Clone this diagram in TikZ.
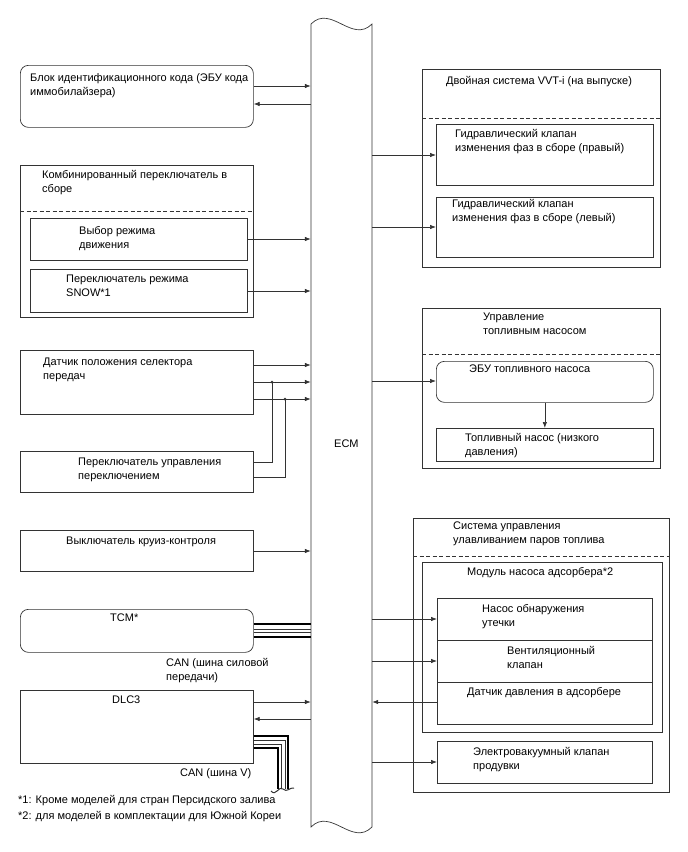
\documentclass[tikz,border=0pt]{standalone}
\usepackage{fontspec}
\setmainfont{Liberation Sans}
\usetikzlibrary{arrows.meta}
\tikzset{
  box/.style ={rectangle, draw=black!80, line width=0.7pt, anchor=north west, inner sep=0pt},
  rbox/.style={box, rounded corners=8pt},
  lbl/.style ={anchor=north west, align=left, inner sep=0pt, font=\fontsize{11}{14}\selectfont},
  ln/.style  ={draw=black!80, line width=0.7pt},
  arr/.style ={ln, -{Latex[length=6pt, width=4.5pt]}},
  sep/.style ={ln, dash pattern=on 4pt off 2.5pt},
  bus/.style ={draw=black, line width=2.6pt},
  wire/.style={draw=black!80, line width=0.5pt}
}

\begin{document}
\begin{tikzpicture}[x=1pt, y=-1pt]
  \useasboundingbox (0,0) rectangle (688,852);

  % ECM
  \node[rectangle, inner sep=0pt, minimum width=61pt, minimum height=803pt] (ecm) at (341.5,425.5) {};
  \draw[ln] (311,24) .. controls (331,4) and (352,44) .. (372,24) -- (372,827)
            .. controls (352,847) and (331,807) .. (311,827) -- cycle;
  \node[lbl] (ecmt) at (334,440) {ECM};

  % left side
  \node[rbox, minimum width=233pt, minimum height=62pt] (imm) at (20,65) {};
  \node[lbl] (immt) at (30,73) {Блок идентификационного кода (ЭБУ кода\\иммобилайзера)};

  \node[box, minimum width=233pt, minimum height=152pt] (combo) at (20,165) {};
  \node[lbl] (combot) at (42,170) {Комбинированный переключатель в\\сборе};
  \draw[sep] (combo.west |- 0,211) -- (combo.east |- 0,211);
  \node[box, minimum width=217pt, minimum height=42pt] (mode) at (30,218) {};
  \node[lbl] (modet) at (79,226) {Выбор режима\\движения};
  \node[box, minimum width=217pt, minimum height=43pt] (snow) at (30,269) {};
  \node[lbl] (snowt) at (66,275) {Переключатель режима\\SNOW*1};

  \node[box, minimum width=233pt, minimum height=64pt] (gear) at (20,350) {};
  \node[lbl] (geart) at (43,358) {Датчик положения селектора\\передач};

  \node[box, minimum width=233pt, minimum height=41pt] (shift) at (20,451) {};
  \node[lbl] (shiftt) at (78,458) {Переключатель управления\\переключением};

  \node[box, minimum width=233pt, minimum height=41pt] (cruise) at (20,530) {};
  \node[lbl] (cruiset) at (66,537) {Выключатель круиз-контроля};

  \node[rbox, minimum width=233pt, minimum height=43pt] (tcm) at (20,609) {};
  \node[lbl] (tcmt) at (110,614) {TCM*};
  \node[lbl] (can1) at (166,658) {CAN (шина силовой\\передачи)};

  \node[box, minimum width=233pt, minimum height=73pt] (dlc) at (20,690) {};
  \node[lbl] (dlct) at (112,696) {DLC3};
  \node[lbl] (can2) at (180,768) {CAN (шина V)};

  \node[lbl] (fn1) at (18,795) {*1: Кроме моделей для стран Персидского залива};
  \node[lbl] (fn2) at (18,811) {*2: для моделей в комплектации для Южной Кореи};

  % right side
  \node[box, minimum width=238pt, minimum height=198pt] (vvt) at (422,69) {};
  \node[lbl] (vvtt) at (446,76) {Двойная система VVT-i (на выпуске)};
  \draw[sep] (vvt.west |- 0,118) -- (vvt.east |- 0,118);
  \node[box, minimum width=217pt, minimum height=61pt] (vvtr) at (436,124) {};
  \node[lbl] (vvtrt) at (455,129) {Гидравлический клапан\\изменения фаз в сборе (правый)};
  \node[box, minimum width=217pt, minimum height=60pt] (vvtl) at (436,197) {};
  \node[lbl] (vvtlt) at (452,199) {Гидравлический клапан\\изменения фаз в сборе (левый)};

  \node[box, minimum width=238pt, minimum height=160pt] (fp) at (422,308) {};
  \node[lbl] (fpt) at (483,313) {Управление\\топливным насосом};
  \draw[sep] (fp.west |- 0,354) -- (fp.east |- 0,354);
  \node[rbox, minimum width=217pt, minimum height=41pt] (ecu) at (436,361) {};
  \node[lbl] (ecut) at (469,365) {ЭБУ топливного насоса};
  \node[box, minimum width=217pt, minimum height=33pt] (lowp) at (436,428) {};
  \node[lbl] (lowpt) at (465,433) {Топливный насос (низкого\\давления)};

  \node[box, minimum width=256pt, minimum height=274pt] (evap) at (413,518) {};
  \node[lbl] (evapt) at (453,522) {Система управления\\улавливанием паров топлива};
  \draw[sep] (evap.west |- 0,556) -- (evap.east |- 0,556);
  \node[box, minimum width=240pt, minimum height=170pt] (module) at (422,562) {};
  \node[lbl] (modulet) at (467,567) {Модуль насоса адсорбера*2};
  \node[box, minimum width=215pt, minimum height=42pt] (leak) at (437,598) {};
  \node[lbl] (leakt) at (482,604) {Насос обнаружения\\утечки};
  \node[box, minimum width=215pt, minimum height=42pt] (vent) at (437,640) {};
  \node[lbl] (ventt) at (507,646) {Вентиляционный\\клапан};
  \node[box, minimum width=215pt, minimum height=42pt] (press) at (437,682) {};
  \node[lbl] (presst) at (467,687) {Датчик давления в адсорбере};
  \node[box, minimum width=215pt, minimum height=42pt] (purge) at (437,741) {};
  \node[lbl] (purget) at (473,747) {Электровакуумный клапан\\продувки};

  % junctions and bus ends
  \coordinate (j1) at (272,382);
  \coordinate (j2) at (285,399);
  \coordinate (vb1) at (288,789);
  \coordinate (vb2) at (285,789);
  \coordinate (vb3) at (281,789);
  \coordinate (vb4) at (278,789);
  \coordinate (brkl) at (271,791);
  \coordinate (brkr) at (294,788);

  % connectors left
  \draw[arr] (imm.east |- 0,86) -- (ecm.west |- 0,86);
  \draw[arr] (ecm.west |- 0,104) -- (imm.east |- 0,104);
  \draw[arr] (mode.east |- 0,239) -- (ecm.west |- 0,239);
  \draw[arr] (snow.east |- 0,291) -- (ecm.west |- 0,291);
  \draw[arr] (gear.east |- 0,365) -- (ecm.west |- 0,365);
  \draw[arr] (gear.east |- 0,382) -- (ecm.west |- 0,382);
  \draw[arr] (gear.east |- 0,399) -- (ecm.west |- 0,399);
  \draw[ln] (shift.east |- 0,462) -| (j1);
  \draw[ln] (shift.east |- 0,477) -| (j2);
  \fill[black!80] (j1) circle (1.5pt) (j2) circle (1.5pt);
  \draw[arr] (cruise.east |- 0,551) -- (ecm.west |- 0,551);
  \draw[bus] (tcm.east |- 0,624) -- (ecm.west |- 0,624);
  \draw[wire] (tcm.east |- 0,629) -- (ecm.west |- 0,629);
  \draw[wire] (tcm.east |- 0,632) -- (ecm.west |- 0,632);
  \draw[bus] (tcm.east |- 0,637) -- (ecm.west |- 0,637);
  \draw[arr] (dlc.east |- 0,702) -- (ecm.west |- 0,702);
  \draw[arr] (ecm.west |- 0,719) -- (dlc.east |- 0,719);
  \draw[bus] (dlc.east |- 0,736) -| (vb1);
  \draw[wire] (dlc.east |- 0,740) -| (vb2);
  \draw[wire] (dlc.east |- 0,744) -| (vb3);
  \draw[bus] (dlc.east |- 0,748) -| (vb4);
  \draw[ln, line width=1pt] (brkl) .. controls (276,797) and (279,785) .. (283,789)
                   .. controls (287,793) and (290,787) .. (brkr);

  % connectors right
  \draw[arr] (ecm.east |- 0,155) -- (vvtr.west |- 0,155);
  \draw[arr] (ecm.east |- 0,227) -- (vvtl.west |- 0,227);
  \draw[arr] (ecm.east |- 0,381) -- (ecu.west |- 0,381);
  \draw[arr] (ecu.south) -- (lowp.north);
  \draw[arr] (ecm.east |- 0,619) -- (leak.west |- 0,619);
  \draw[arr] (ecm.east |- 0,661) -- (vent.west |- 0,661);
  \draw[arr] (press.west |- 0,702) -- (ecm.east |- 0,702);
  \draw[arr] (ecm.east |- 0,762) -- (purge.west |- 0,762);
\end{tikzpicture}
\end{document}
